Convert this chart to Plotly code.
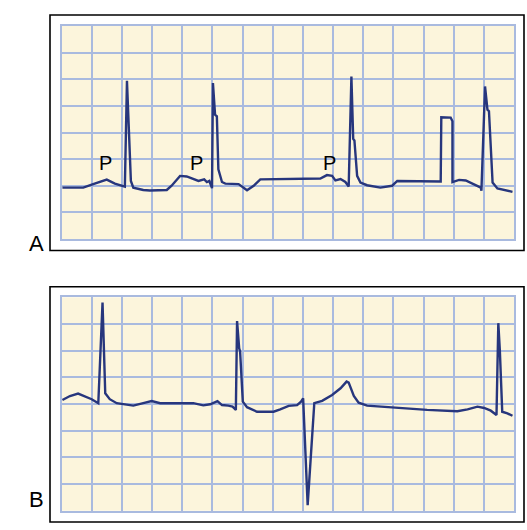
import plotly.graph_objects as go

# Panel A trace (grid units: x 0..15, y 0..8)
a_x = [0.03, 0.72, 1.05, 1.5, 1.77, 2.1, 2.17, 2.3, 2.38, 2.71, 2.93, 3.49, 3.65, 3.93, 4.15, 4.54,
       4.73, 4.82, 4.9, 4.99, 5.02, 5.09, 5.15, 5.2, 5.32, 5.43, 5.87, 6.15, 6.37, 6.59,
       8.58, 8.8, 8.97, 9.08, 9.25, 9.41, 9.52, 9.61, 9.67, 9.71, 9.8, 9.91, 10.13, 10.57, 10.96,
       11.13, 12.57, 12.59, 12.9, 12.96, 12.96, 13.18, 13.4, 13.67, 13.9, 13.92, 14.04, 14.12,
       14.17, 14.29, 14.45, 14.95]
a_y = [1.93, 1.93, 2.06, 2.23, 2.08, 1.97, 5.94, 2.18, 1.93, 1.84, 1.82, 1.84, 2.0, 2.37, 2.35, 2.18,
       2.24, 2.14, 2.18, 1.91, 5.86, 4.67, 4.61, 2.62, 2.14, 2.08, 2.06, 1.83, 2.0, 2.24,
       2.27, 2.4, 2.37, 2.2, 2.25, 2.14, 1.97, 6.1, 3.76, 3.7, 2.37, 2.12, 2.02, 1.93, 2.0,
       2.18, 2.16, 4.57, 4.56, 4.42, 2.14, 2.22, 2.2, 2.06, 1.93, 1.81, 5.73, 4.86,
       4.8, 2.12, 1.9, 1.77]

# Panel B trace
b_x = [0.03, 0.28, 0.55, 0.77, 1.0, 1.22, 1.36, 1.45, 1.6, 1.83, 2.38, 2.71, 2.99, 3.27, 4.37,
       4.7, 4.93, 5.17, 5.32, 5.53, 5.67, 5.78, 5.82, 5.89, 5.92, 6.01, 6.15, 6.48, 7.03,
       7.25, 7.53, 7.81, 7.94, 8.01, 8.16, 8.38, 8.64, 8.97, 9.25, 9.45, 9.52, 9.69, 9.85,
       10.13, 11.02, 12.12, 13.12, 13.46, 13.79, 14.01, 14.23, 14.42, 14.48, 14.53, 14.61,
       14.78, 14.95]
b_y = [4.15, 4.3, 4.39, 4.3, 4.18, 4.03, 7.8, 4.4, 4.18, 4.03, 3.94, 4.03, 4.11, 4.03, 4.03,
       3.95, 3.99, 4.11, 3.96, 3.94, 3.9, 3.78, 7.11, 6.09, 5.98, 4.09, 3.88, 3.71, 3.71,
       3.8, 3.93, 3.96, 4.09, 4.21, 0.21, 4.03, 4.12, 4.34, 4.59, 4.84, 4.8, 4.3, 4.05,
       3.94, 3.86, 3.78, 3.73, 3.8, 3.9, 3.85, 3.75, 3.59, 7.03, 6.03, 3.71,
       3.65, 3.56]

p_labels = ["P", "P", "P"]
p_x = [1.46, 4.46, 8.89]
p_y = [2.84, 2.84, 2.87]
panel_labels = ["A", "B"]

W, H = 527, 530
LINE = "#27367d"
GRID = "#a9badf"
CREAM = "#fcf5dc"

fig = go.Figure()
fig.add_trace(go.Scatter(x=a_x, y=a_y, mode="lines", line=dict(color=LINE, width=2.4),
                         xaxis="x", yaxis="y", hoverinfo="skip", showlegend=False))
fig.add_trace(go.Scatter(x=b_x, y=b_y, mode="lines", line=dict(color=LINE, width=2.4),
                         xaxis="x2", yaxis="y2", hoverinfo="skip", showlegend=False))

def px_x(p):
    return p / W

def px_y(p):
    return 1 - p / H

ax_common = dict(range=[0, 15], dtick=1, tick0=0, showgrid=True, gridcolor=GRID, gridwidth=1.6,
                 zeroline=False, showticklabels=False, ticks="", showline=True, linecolor=GRID,
                 linewidth=1.6, mirror=True, fixedrange=True)
ay_common = dict(range=[0, 8], dtick=1, tick0=0, showgrid=True, gridcolor=GRID, gridwidth=1.6,
                 zeroline=False, showticklabels=False, ticks="", showline=True, linecolor=GRID,
                 linewidth=1.6, mirror=True, fixedrange=True)

gx0, gx1 = 61.5, 514
fig.update_layout(
    width=W, height=H, margin=dict(l=0, r=0, t=0, b=0),
    paper_bgcolor="white", plot_bgcolor=CREAM,
    xaxis=dict(domain=[px_x(gx0), px_x(gx1)], anchor="y", **ax_common),
    yaxis=dict(domain=[px_y(239), px_y(26)], anchor="x", **ay_common),
    xaxis2=dict(domain=[px_x(gx0), px_x(gx1)], anchor="y2", **ax_common),
    yaxis2=dict(domain=[px_y(510.7), px_y(297.3)], anchor="x2", **ay_common),
    showlegend=False,
)

# outer black boxes
for (t, b) in [(15, 250.5), (286.7, 522)]:
    fig.add_shape(type="rect", xref="paper", yref="paper",
                  x0=px_x(50), x1=px_x(524), y0=px_y(b), y1=px_y(t),
                  line=dict(color="black", width=1.6), fillcolor="rgba(0,0,0,0)", layer="below")

for lab, x, y in zip(p_labels, p_x, p_y):
    fig.add_annotation(x=x, y=y, xref="x", yref="y", text=lab, showarrow=False,
                       font=dict(family="Liberation Sans, Arial", size=20, color="black"))

for lab, yc in zip(panel_labels, [243, 513.5]):
    fig.add_annotation(x=px_x(26.5), y=px_y(yc), xref="paper", yref="paper", text=lab,
                       showarrow=False, font=dict(family="Liberation Sans, Arial", size=22, color="black"))

fig.write_html("out.html", config={"displayModeBar": False},
               post_script="document.body.style.margin='0';document.body.style.overflow='hidden';")
